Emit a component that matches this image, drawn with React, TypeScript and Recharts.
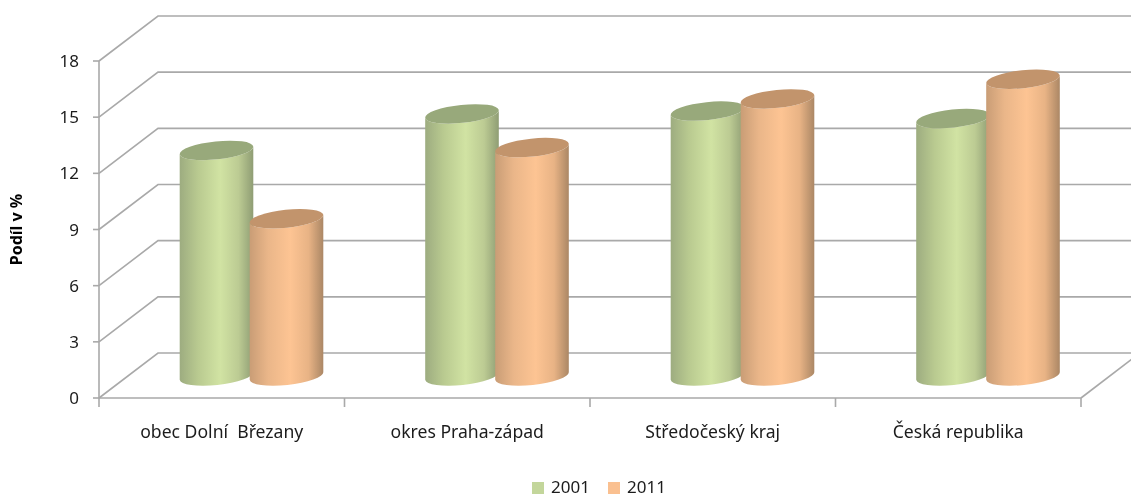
import { BarChart, Bar, XAxis, YAxis, CartesianGrid, Legend } from "recharts";

const categories = ["obec Dolní  Březany", "okres Praha-západ", "Středočeský kraj", "Česká republika"];
const values2001 = [12.05, 14.0, 14.15, 13.75];
const values2011 = [8.4, 12.2, 14.8, 15.85];
const yTicks = [0, 3, 6, 9, 12, 15, 18];

const data = categories.map((name, i) => ({
  name,
  y2001: values2001[i],
  y2011: values2011[i],
}));

const WIDTH = 1131;
const HEIGHT = 498;
const MARGIN = { top: 61, right: 50, bottom: 0, left: 0 };
const PLOT_WIDTH = 982;
const BAND = PLOT_WIDTH / categories.length;

// fake 3D: back wall offset, bars stand half way in
const DEPTH_X = 59;
const DEPTH_Y = -45;
const BAR_DX = 29.5;
const BAR_DY = -22;
const TILT = -6;
const RY = 9;

const LINE = "#a9a9a9";
const FONT = "'Noto Sans', sans-serif";
const TEXT = "#1c1c1c";

function wallLine(props: any) {
  const { x1, x2, y1, y2 } = props;
  const isFloor = y1 > 390;
  return (
    <g key={`wall-${y1}`}>
      <polyline
        points={`${x1},${y1} ${x1 + DEPTH_X},${y1 + DEPTH_Y} ${x2 + DEPTH_X},${y2 + DEPTH_Y}`}
        fill="none"
        stroke={LINE}
        strokeWidth={1.6}
      />
      {isFloor && (
        <line x1={x2} y1={y2} x2={x2 + DEPTH_X} y2={y2 + DEPTH_Y} stroke={LINE} strokeWidth={1.6} />
      )}
    </g>
  );
}

function Cylinder(props: any) {
  const { x, y, width, height, gradient, top } = props;
  const rx = width / 2;
  const cx = x + rx + BAR_DX;
  const topY = y + BAR_DY;
  const baseY = y + height + BAR_DY;
  const rad = (TILT * Math.PI) / 180;
  const ex = rx * Math.cos(rad);
  const ey = rx * Math.sin(rad);
  const body = [
    `M${cx - ex},${topY - ey}`,
    `L${cx - ex},${baseY - ey}`,
    `A${rx},${RY} ${TILT} 0 0 ${cx + ex},${baseY + ey}`,
    `L${cx + ex},${topY + ey}`,
    `A${rx},${RY} ${TILT} 0 1 ${cx - ex},${topY - ey}`,
    "Z",
  ].join(" ");
  return (
    <g>
      <path d={body} fill={`url(#${gradient})`} />
      <ellipse cx={cx} cy={topY} rx={rx} ry={RY} fill={top} transform={`rotate(${TILT} ${cx} ${topY})`} />
    </g>
  );
}

function CategoryTick(props: any) {
  const { x, y, payload, index } = props;
  const left = x - BAND / 2;
  const axisY = y - 8;
  return (
    <g>
      <line x1={left} y1={axisY} x2={left} y2={axisY + 9} stroke={LINE} strokeWidth={1.6} />
      {index === categories.length - 1 && (
        <line x1={left + BAND} y1={axisY} x2={left + BAND} y2={axisY + 9} stroke={LINE} strokeWidth={1.6} />
      )}
      <text
        x={x}
        y={axisY + 40}
        textAnchor="middle"
        fontFamily={FONT}
        fontSize={17.6}
        fill={TEXT}
        style={{ whiteSpace: "pre" }}
      >
        {payload.value}
      </text>
    </g>
  );
}

function LegendRow() {
  const item = (color: string, label: string, gap: number) => (
    <div style={{ display: "flex", alignItems: "center", marginRight: gap, height: 24 }}>
      <div style={{ width: 12, height: 12, background: color, marginRight: 7, marginTop: 4 }} />
      <svg width={42} height={24} style={{ display: "block", overflow: "visible" }}>
        <text x={0} y={19} fontFamily={FONT} fontSize={17} fill={TEXT}>
          {label}
        </text>
      </svg>
    </div>
  );
  return (
    <div style={{ display: "flex", height: 24, paddingLeft: 532, boxSizing: "border-box" }}>
      {item("#c3d69b", "2001", 15)}
      {item("#fac090", "2011", 0)}
    </div>
  );
}

export default function App() {
  return (
    <div
      style={{
        position: "absolute",
        left: 0,
        top: 0,
        width: WIDTH,
        height: HEIGHT,
        background: "#fff",
        filter: "blur(0.4px)",
      }}
    >
      <BarChart width={WIDTH} height={HEIGHT} data={data} margin={MARGIN} barSize={74} barGap={-4}>
        <defs>
          <linearGradient id="green-body" x1="0" y1="0" x2="1" y2="0">
            <stop offset="0%" stopColor="#9dac80" />
            <stop offset="25%" stopColor="#b9ca90" />
            <stop offset="55%" stopColor="#d1e3a3" />
            <stop offset="80%" stopColor="#bccb93" />
            <stop offset="100%" stopColor="#8f9d74" />
          </linearGradient>
          <linearGradient id="orange-body" x1="0" y1="0" x2="1" y2="0">
            <stop offset="0%" stopColor="#c99d76" />
            <stop offset="25%" stopColor="#eab689" />
            <stop offset="55%" stopColor="#fdc493" />
            <stop offset="80%" stopColor="#e8b385" />
            <stop offset="100%" stopColor="#ab8765" />
          </linearGradient>
        </defs>
        <CartesianGrid horizontal={wallLine} vertical={false} />
        <XAxis
          dataKey="name"
          height={76}
          interval={0}
          stroke={LINE}
          strokeWidth={1.6}
          tickLine={false}
          tick={CategoryTick}
        />
        <YAxis
          width={99}
          domain={[0, 18]}
          ticks={yTicks}
          interval={0}
          stroke={LINE}
          strokeWidth={1.6}
          tickSize={6}
          tickMargin={14}
          tick={{ fontSize: 17, fontFamily: FONT, fill: TEXT }}
          label={{
            value: "Podíl v %",
            angle: -90,
            position: "insideLeft",
            offset: 16,
            style: { textAnchor: "middle", fontSize: 16, fontWeight: 700, fontFamily: FONT, fill: "#000" },
          }}
        />
        <Bar
          dataKey="y2001"
          name="2001"
          fill="#c3d69b"
          isAnimationActive={false}
          shape={(p: any) => <Cylinder {...p} gradient="green-body" top="#98a97b" />}
        />
        <Bar
          dataKey="y2011"
          name="2011"
          fill="#fac090"
          isAnimationActive={false}
          shape={(p: any) => <Cylinder {...p} gradient="orange-body" top="#c2946c" />}
        />
        <Legend verticalAlign="bottom" content={LegendRow} />
      </BarChart>
    </div>
  );
}
